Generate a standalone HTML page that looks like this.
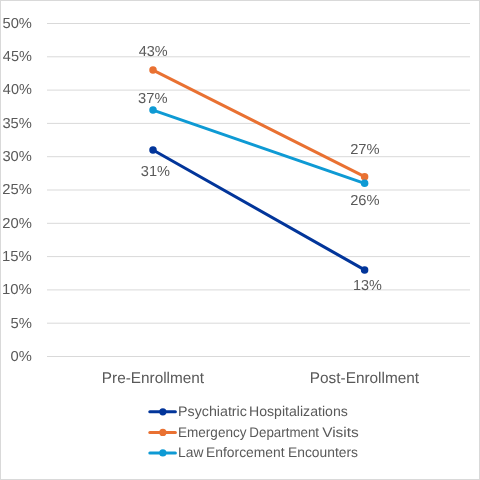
<!DOCTYPE html>
<html><head><meta charset="utf-8">
<style>
html,body{margin:0;padding:0;background:#fff;}
.wrap{position:relative;width:480px;height:480px;box-sizing:border-box;border:1px solid #d9d9d9;overflow:hidden;}
svg{position:absolute;left:-1px;top:-1px;will-change:transform;text-rendering:geometricPrecision;}
.t{font-family:"Liberation Sans",sans-serif;font-size:14.5px;fill:#595959;}
.c{font-family:"Liberation Sans",sans-serif;font-size:15.5px;fill:#595959;}
.l{font-family:"Liberation Sans",sans-serif;font-size:14px;fill:#595959;}
</style></head><body>
<div class="wrap"><svg width="480" height="480" viewBox="0 0 480 480">
<line x1="47" y1="23.50" x2="470" y2="23.50" stroke="#d9d9d9" stroke-width="1"/>
<line x1="47" y1="56.80" x2="470" y2="56.80" stroke="#d9d9d9" stroke-width="1"/>
<line x1="47" y1="90.10" x2="470" y2="90.10" stroke="#d9d9d9" stroke-width="1"/>
<line x1="47" y1="123.40" x2="470" y2="123.40" stroke="#d9d9d9" stroke-width="1"/>
<line x1="47" y1="156.70" x2="470" y2="156.70" stroke="#d9d9d9" stroke-width="1"/>
<line x1="47" y1="190.00" x2="470" y2="190.00" stroke="#d9d9d9" stroke-width="1"/>
<line x1="47" y1="223.30" x2="470" y2="223.30" stroke="#d9d9d9" stroke-width="1"/>
<line x1="47" y1="256.60" x2="470" y2="256.60" stroke="#d9d9d9" stroke-width="1"/>
<line x1="47" y1="289.90" x2="470" y2="289.90" stroke="#d9d9d9" stroke-width="1"/>
<line x1="47" y1="323.20" x2="470" y2="323.20" stroke="#d9d9d9" stroke-width="1"/>
<line x1="47" y1="356.50" x2="470" y2="356.50" stroke="#d9d9d9" stroke-width="1"/>
<line x1="153.0" y1="150.04" x2="364.6" y2="269.92" stroke="#02359a" stroke-width="3" stroke-linecap="round"/>
<circle cx="153.0" cy="150.04" r="3.75" fill="#02359a"/>
<circle cx="364.6" cy="269.92" r="3.75" fill="#02359a"/>
<line x1="153.0" y1="70.12" x2="364.6" y2="176.68" stroke="#e97132" stroke-width="3" stroke-linecap="round"/>
<circle cx="153.0" cy="70.12" r="3.75" fill="#e97132"/>
<circle cx="364.6" cy="176.68" r="3.75" fill="#e97132"/>
<line x1="153.0" y1="110.08" x2="364.6" y2="183.34" stroke="#0e9ad4" stroke-width="3" stroke-linecap="round"/>
<circle cx="153.0" cy="110.08" r="3.75" fill="#0e9ad4"/>
<circle cx="364.6" cy="183.34" r="3.75" fill="#0e9ad4"/>
<line x1="149.8" y1="411.85" x2="175.4" y2="411.85" stroke="#02359a" stroke-width="3" stroke-linecap="round"/>
<circle cx="162.85" cy="411.85" r="3.6" fill="#02359a"/>
<line x1="149.8" y1="432.4" x2="175.4" y2="432.4" stroke="#e97132" stroke-width="3" stroke-linecap="round"/>
<circle cx="162.85" cy="432.4" r="3.6" fill="#e97132"/>
<line x1="149.8" y1="452.95" x2="175.4" y2="452.95" stroke="#0e9ad4" stroke-width="3" stroke-linecap="round"/>
<circle cx="162.85" cy="452.95" r="3.6" fill="#0e9ad4"/>
<text x="2.49" y="27.56" textLength="29.39" lengthAdjust="spacingAndGlyphs" class="t">50%</text>
<text x="2.86" y="60.69" textLength="29.00" lengthAdjust="spacingAndGlyphs" class="t">45%</text>
<text x="2.86" y="93.69" textLength="29.00" lengthAdjust="spacingAndGlyphs" class="t">40%</text>
<text x="2.41" y="127.66" textLength="29.44" lengthAdjust="spacingAndGlyphs" class="t">35%</text>
<text x="2.41" y="160.73" textLength="29.44" lengthAdjust="spacingAndGlyphs" class="t">30%</text>
<text x="2.33" y="193.64" textLength="29.56" lengthAdjust="spacingAndGlyphs" class="t">25%</text>
<text x="2.33" y="227.61" textLength="29.56" lengthAdjust="spacingAndGlyphs" class="t">20%</text>
<text x="2.05" y="260.69" textLength="29.81" lengthAdjust="spacingAndGlyphs" class="t">15%</text>
<text x="2.05" y="293.66" textLength="29.81" lengthAdjust="spacingAndGlyphs" class="t">10%</text>
<text x="10.49" y="327.51" textLength="21.40" lengthAdjust="spacingAndGlyphs" class="t">5%</text>
<text x="10.62" y="360.56" textLength="21.27" lengthAdjust="spacingAndGlyphs" class="t">0%</text>
<text x="138.74" y="55.64" textLength="28.94" lengthAdjust="spacingAndGlyphs" class="t">43%</text>
<text x="138.14" y="102.64" textLength="29.47" lengthAdjust="spacingAndGlyphs" class="t">37%</text>
<text x="140.79" y="175.64" textLength="29.18" lengthAdjust="spacingAndGlyphs" class="t">31%</text>
<text x="350.17" y="153.59" textLength="29.43" lengthAdjust="spacingAndGlyphs" class="t">27%</text>
<text x="350.17" y="204.72" textLength="29.43" lengthAdjust="spacingAndGlyphs" class="t">26%</text>
<text x="353.01" y="289.67" textLength="28.90" lengthAdjust="spacingAndGlyphs" class="t">13%</text>
<text x="101.81" y="382.53" textLength="102.33" lengthAdjust="spacingAndGlyphs" class="c">Pre-Enrollment</text>
<text x="309.78" y="382.53" textLength="109.33" lengthAdjust="spacingAndGlyphs" class="c">Post-Enrollment</text>
<text x="178.07" y="415.52" textLength="68.84" lengthAdjust="spacingAndGlyphs" class="l">Psychiatric</text>
<text x="248.99" y="415.59" textLength="98.81" lengthAdjust="spacingAndGlyphs" class="l">Hospitalizations</text>
<text x="177.99" y="436.60" textLength="68.52" lengthAdjust="spacingAndGlyphs" class="l">Emergency</text>
<text x="249.35" y="436.60" textLength="69.75" lengthAdjust="spacingAndGlyphs" class="l">Department</text>
<text x="322.15" y="436.57" textLength="36.65" lengthAdjust="spacingAndGlyphs" class="l">Visits</text>
<text x="178.02" y="456.55" textLength="25.36" lengthAdjust="spacingAndGlyphs" class="l">Law</text>
<text x="206.07" y="456.55" textLength="78.51" lengthAdjust="spacingAndGlyphs" class="l">Enforcement</text>
<text x="287.99" y="456.55" textLength="69.98" lengthAdjust="spacingAndGlyphs" class="l">Encounters</text>
</svg></div>
</body></html>
